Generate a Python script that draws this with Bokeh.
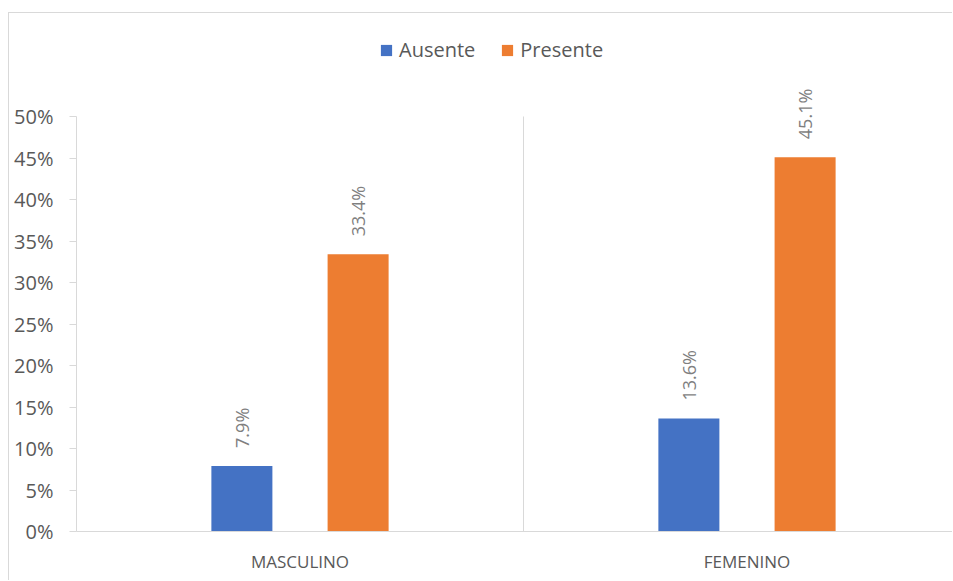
from bokeh.plotting import figure
from bokeh.models import (ColumnDataSource, Range1d, FixedTicker, PrintfTickFormatter,
                          Legend)
from bokeh.core.properties import value
from bokeh.embed import file_html
from bokeh.resources import INLINE
import math

# Data
categories = ["MASCULINO", "FEMENINO"]
ausente = [7.9, 13.6]
presente = [33.4, 45.1]
y_ticks = [0, 5, 10, 15, 20, 25, 30, 35, 40, 45, 50]

FONT = "Open Sans"
BLUE = "#4472C4"
ORANGE = "#ED7D31"
AXIS = "#d9d9d9"
TEXT = "#595959"

# category i occupies [i, i+1] on the numeric x scale
centers = [i + 0.5 for i in range(len(categories))]
offset = 0.13
bar_w = 0.1365
y_max = y_ticks[-1]

src_a = ColumnDataSource(dict(
    x=[c - offset for c in centers], top=ausente,
    label=[f"{v:.1f}%" for v in ausente]))
src_p = ColumnDataSource(dict(
    x=[c + offset for c in centers], top=presente,
    label=[f"{v:.1f}%" for v in presente]))

# the value axis stops at 50%; the space above it holds the legend
p = figure(width=944, height=568, output_backend="svg", toolbar_location=None,
           x_range=Range1d(0, 1.962), y_range=Range1d(0, 62.41),
           min_border_left=67, min_border_right=0,
           min_border_top=0, min_border_bottom=50)
p.margin = (12, 0, 0, 8)
p.styles = {"border-left": f"1px solid {AXIS}", "border-top": f"1px solid {AXIS}"}
p.outline_line_color = None
p.background_fill_color = "white"
p.border_fill_color = "white"

# divider between the two category groups
bounds = list(range(1, len(categories)))
p.segment(x0=bounds, y0=[0] * len(bounds), x1=bounds, y1=[y_max] * len(bounds),
          line_color=AXIS, line_width=1)

ra = p.vbar(x="x", top="top", width=bar_w, source=src_a, fill_color=BLUE, line_color=None)
rp = p.vbar(x="x", top="top", width=bar_w, source=src_p, fill_color=ORANGE, line_color=None)

for src in (src_a, src_p):
    p.text(x="x", y="top", text="label", source=src, angle=math.pi / 2,
           text_align="left", text_baseline="middle", y_offset=-18,
           text_font=value(FONT), text_font_size="18px", text_color="#7f7f7f")

# y axis
p.yaxis.bounds = (0, y_max)
p.yaxis.ticker = FixedTicker(ticks=y_ticks)
p.yaxis.formatter = PrintfTickFormatter(format="%d%%")
p.yaxis.axis_line_color = AXIS
p.yaxis.major_tick_line_color = AXIS
p.yaxis.major_tick_out = 7
p.yaxis.major_tick_in = 0
p.yaxis.minor_tick_line_color = None
p.yaxis.major_label_standoff = 16
p.yaxis.major_label_text_font = FONT
p.yaxis.major_label_text_font_size = "20px"
p.yaxis.major_label_text_color = TEXT

# x axis with category names
p.xaxis.ticker = FixedTicker(ticks=centers)
p.xaxis.major_label_overrides = {c: name for c, name in zip(centers, categories)}
p.xaxis.axis_line_color = AXIS
p.xaxis.major_tick_line_color = None
p.xaxis.minor_tick_line_color = None
p.xaxis.major_tick_out = 0
p.xaxis.major_label_standoff = 18
p.xaxis.major_label_text_font = FONT
p.xaxis.major_label_text_font_size = "17px"
p.xaxis.major_label_text_color = TEXT

p.xgrid.grid_line_color = None
p.ygrid.grid_line_color = None

legend = Legend(items=[("Ausente", [ra]), ("Presente", [rp])],
                orientation="horizontal", location=(303, 468))
legend.border_line_color = None
legend.background_fill_alpha = 0
legend.label_text_font = FONT
legend.label_text_font_size = "20px"
legend.label_text_color = TEXT
legend.glyph_width = 14
legend.glyph_height = 14
legend.spacing = 25
legend.label_standoff = 6
legend.padding = 0
legend.margin = 0
p.add_layout(legend, "center")

open("out.html", "w").write(file_html(p, INLINE))
